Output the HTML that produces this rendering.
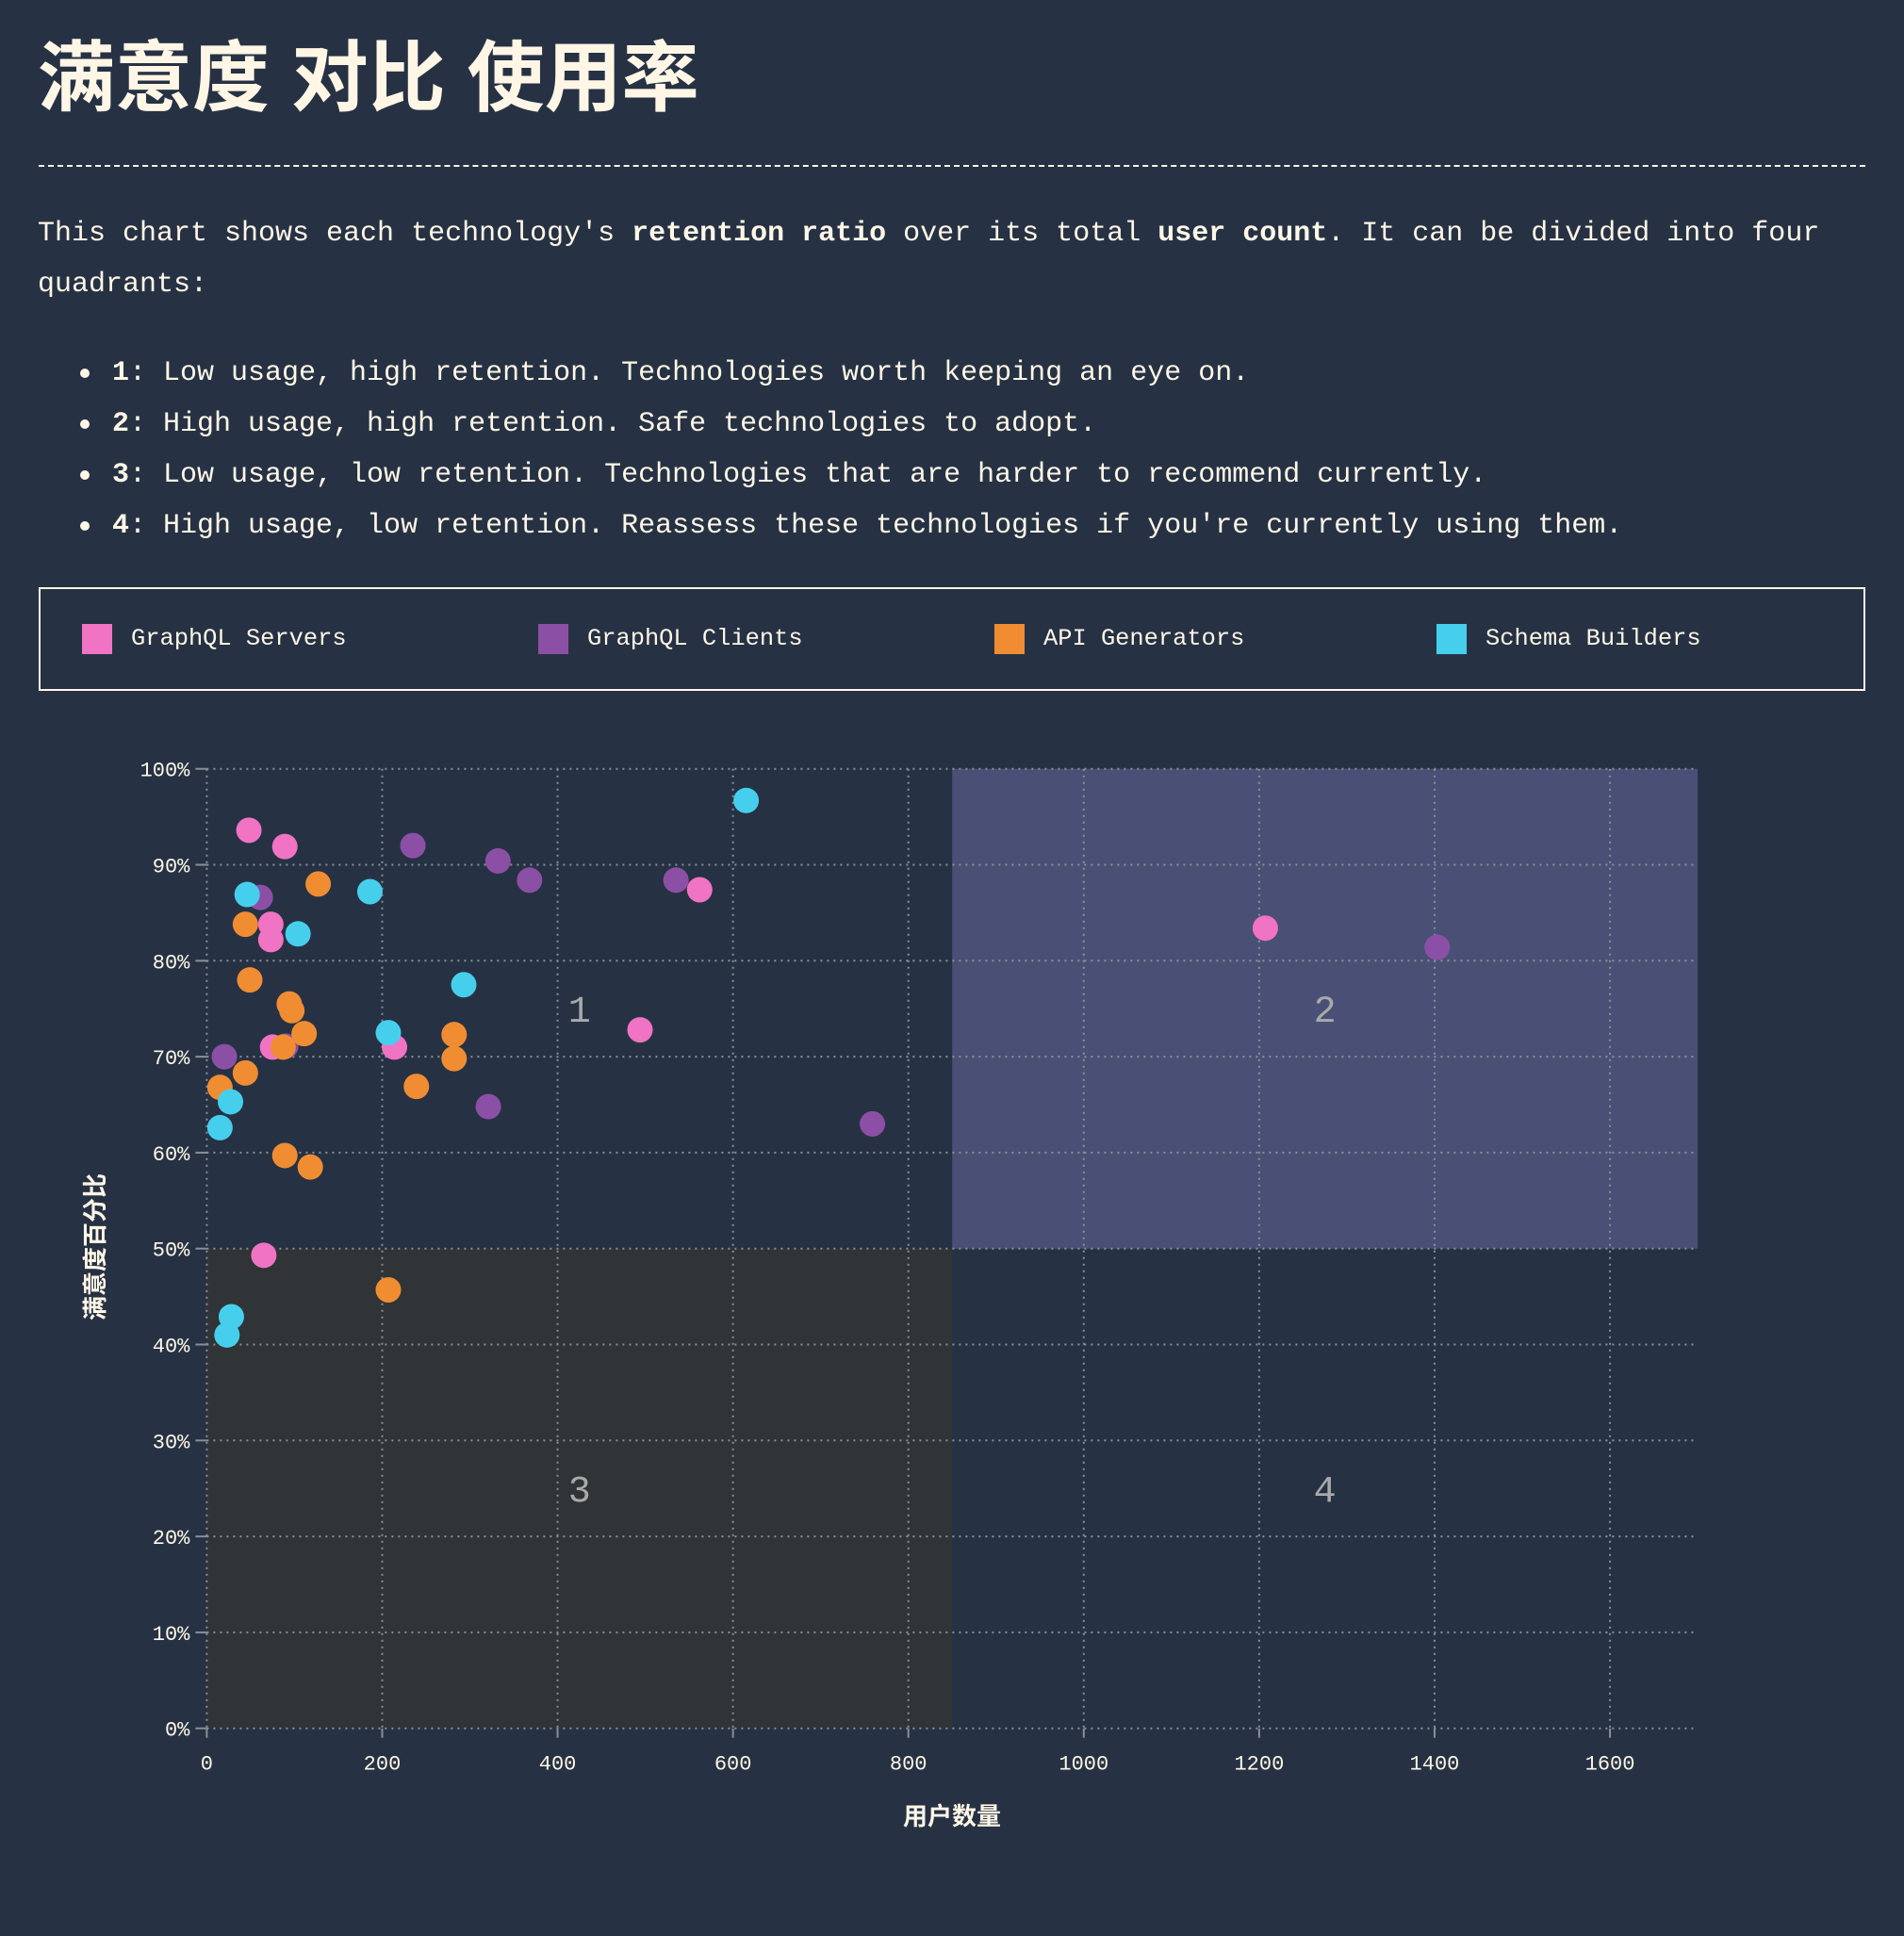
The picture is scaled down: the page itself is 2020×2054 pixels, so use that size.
<!DOCTYPE html>
<html><head><meta charset="utf-8">
<style>
html,body{margin:0;padding:0;background:#263244;}
body{width:2020px;height:2054px;position:relative;overflow:hidden;color:#fff6e6;font-family:"Liberation Mono","Noto Sans CJK SC",monospace;}
#title{position:absolute;left:40px;top:29px;margin:0;font:bold 82px/110px "Liberation Sans","Noto Sans CJK SC",sans-serif;color:#fff6e6;}
#rule{position:absolute;left:41px;top:175px;width:1938px;border-top:2px dashed #fff6e6;}
#intro{position:absolute;left:40px;top:221px;margin:0;font-size:30px;line-height:54px;white-space:nowrap;}
#quads{position:absolute;left:40px;top:369px;margin:0;padding:0;list-style:none;font-size:30px;line-height:54px;white-space:nowrap;}
#quads li{position:relative;padding-left:79px;}
#quads li:before{content:"";position:absolute;left:45px;top:22px;width:10px;height:10px;border-radius:50%;background:#fff6e6;}
#legend{position:absolute;left:41px;top:623px;width:1934px;height:106px;border:2px solid #fff6e6;}
.leg{position:absolute;top:37px;height:32px;font-size:25.4px;line-height:32px;white-space:nowrap;}
.leg i{position:absolute;left:0;top:0;width:32px;height:32px;}
.leg span{position:absolute;left:52px;top:0;}
svg{position:absolute;left:0;top:0;}
</style></head>
<body>
<h1 id="title">满意度 对比 使用率</h1>
<div id="rule"></div>
<p id="intro">This chart shows each technology's <b>retention ratio</b> over its total <b>user count</b>. It can be divided into four<br>quadrants:</p>
<ul id="quads">
<li><b>1</b>: Low usage, high retention. Technologies worth keeping an eye on.</li>
<li><b>2</b>: High usage, high retention. Safe technologies to adopt.</li>
<li><b>3</b>: Low usage, low retention. Technologies that are harder to recommend currently.</li>
<li><b>4</b>: High usage, low retention. Reassess these technologies if you're currently using them.</li>
</ul>
<div id="legend">
<div class="leg" style="left:44px"><i style="background:#f173c4"></i><span>GraphQL Servers</span></div>
<div class="leg" style="left:528px"><i style="background:#8c4fa6"></i><span>GraphQL Clients</span></div>
<div class="leg" style="left:1012px"><i style="background:#f08d33"></i><span>API Generators</span></div>
<div class="leg" style="left:1481px"><i style="background:#46cfed"></i><span>Schema Builders</span></div>
</div>
<svg id="chart" width="2020" height="2054"></svg>
<script>
const xTicks=[0,200,400,600,800,1000,1200,1400,1600];
const yTicks=[0,10,20,30,40,50,60,70,80,90,100];
const seriesNames=["GraphQL Servers","GraphQL Clients","API Generators","Schema Builders"];
const seriesColors=["#f173c4","#8c4fa6","#f08d33","#46cfed"];
const serversX=[48,89,73,73,75,214,65,494,562,1207];
const serversY=[93.6,91.9,83.8,82.2,71,71,49.3,72.8,87.4,83.4];
const clientsX=[61,20,90,235,332,368,535,321,759,1403];
const clientsY=[86.6,70,71.1,92,90.4,88.4,88.4,64.8,63,81.4];
const generatorsX=[44,127,49,94,97,111,87,44,15,89,118,239,282,282,207];
const generatorsY=[83.8,88,78,75.5,74.8,72.4,71,68.3,66.8,59.7,58.5,66.9,72.3,69.8,45.7];
const buildersX=[46,104,186,293,207,27,15,28,23,615];
const buildersY=[86.9,82.8,87.2,77.5,72.5,65.3,62.6,42.9,41,96.7];
const quadrantLabels=["1","2","3","4"];
const xMax=1700, xMid=850, yMid=50;

const NS="http://www.w3.org/2000/svg";
const svg=document.getElementById('chart');
const X0=219.4, XS=0.9304, Y0=1833.7, YS=10.18;
const sx=v=>X0+v*XS, sy=v=>Y0-v*YS;
function mk(tag,attrs,parent){const e=document.createElementNS(NS,tag);for(const k in attrs)e.setAttribute(k,attrs[k]);(parent||svg).appendChild(e);return e;}

let q=mk('rect',{x:sx(xMid),y:sy(100),width:sx(xMax)-sx(xMid),height:sy(yMid)-sy(100),fill:'#4a5075'});


q=mk('rect',{x:sx(0),y:sy(yMid),width:sx(xMid)-sx(0),height:sy(0)-sy(yMid),fill:'#303436'});



xTicks.forEach(t=>{
  const g=mk('line',{x1:sx(t),x2:sx(t),y1:sy(100),y2:sy(0),stroke:'#8a8f96','stroke-width':2,'stroke-dasharray':'2 5'});
  
  
  mk('line',{x1:sx(t),x2:sx(t),y1:sy(0),y2:sy(0)+10,stroke:'#8a8f96','stroke-width':2});
  const l=mk('text',{x:sx(t),y:sy(0)+44,'text-anchor':'middle',fill:'#fff6e6','font-size':22,'font-family':'Liberation Mono, monospace'});
  l.textContent=t;
  
  
});
yTicks.forEach(t=>{
  const g=mk('line',{x1:sx(0),x2:sx(xMax),y1:sy(t),y2:sy(t),stroke:'#8a8f96','stroke-width':2,'stroke-dasharray':'2 5'});
  
  
  mk('line',{x1:sx(0)-12,x2:sx(0),y1:sy(t),y2:sy(t),stroke:'#8a8f96','stroke-width':2});
  const l=mk('text',{x:sx(0)-18,y:sy(t)+8,'text-anchor':'end',fill:'#fff6e6','font-size':22,'font-family':'Liberation Mono, monospace'});
  l.textContent=t+'%';
  
  
});

const qpos=[[xMid/2,75],[(xMid+xMax)/2,75],[xMid/2,25],[(xMid+xMax)/2,25]];
quadrantLabels.forEach((s,i)=>{
  const l=mk('text',{x:sx(qpos[i][0]),y:sy(qpos[i][1])+14,'text-anchor':'middle',fill:'#a9a9a9','font-size':40,'font-family':'Liberation Mono, monospace'});
  l.textContent=s;
  
  
});

const allX=[serversX,clientsX,generatorsX,buildersX], allY=[serversY,clientsY,generatorsY,buildersY];
allX.forEach((xs,si)=>{
  xs.forEach((v,i)=>{
    const c=mk('circle',{cx:sx(v),cy:sy(allY[si][i]),r:13.5,fill:seriesColors[si]});
    
    
  });
});

let t=mk('text',{x:1010,y:1936,'text-anchor':'middle',fill:'#fff6e6','font-size':26,'font-weight':'bold','font-family':'Liberation Sans, Noto Sans CJK SC, sans-serif'});
t.textContent='用户数量';


t=mk('text',{x:0,y:0,'text-anchor':'middle',fill:'#fff6e6','font-size':26,'font-weight':'bold','font-family':'Liberation Sans, Noto Sans CJK SC, sans-serif',transform:'translate(110,1323) rotate(-90)'});
t.textContent='满意度百分比';


</script>
</body></html>
